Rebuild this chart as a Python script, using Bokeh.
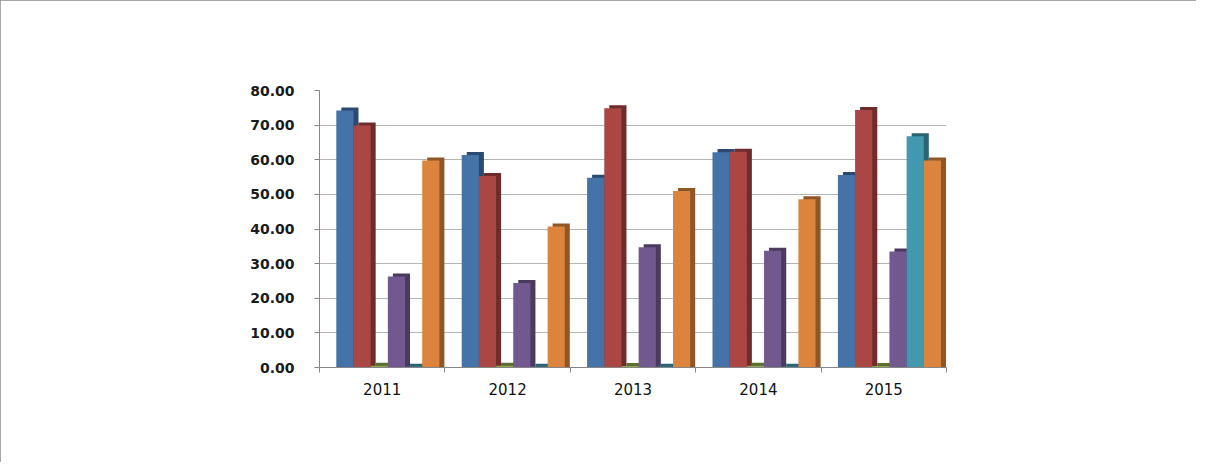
import numpy as np
from bokeh.plotting import figure
from bokeh.models import (Range1d, FixedTicker, Label, Legend, LegendItem,
                          NumeralTickFormatter)
from bokeh.core.properties import value
from bokeh.embed import file_html
from bokeh.resources import INLINE

# ---------------- data ----------------
years = ["2011", "2012", "2013", "2014", "2015"]
series = ["Dasheen", "Sweet Potato", "Tannia", "Yams", "Plantain", "Green Banana"]
dasheen = [74.2, 61.4, 54.8, 62.2, 55.6]
sweet_potato = [69.9, 55.3, 74.9, 62.3, 74.4]
tannia = [0.5, 0.5, 0.4, 0.5, 0.4]
yams = [26.3, 24.4, 34.7, 33.7, 33.5]
plantain = [0.2, 0.2, 0.2, 0.2, 66.8]
green_banana = [59.8, 40.7, 51.0, 48.6, 59.8]
y_ticks = [0, 10, 20, 30, 40, 50, 60, 70, 80]

title_lines = ["Total Purchases of Selected Food Crops", "by Leading  Hotels"]
y_title = "Tonnes"
x_title = "YEAR"

colors = ["#4572A7", "#AA4643", "#89A54E", "#71588F", "#4198AF", "#DB843D"]
side_colors = ["#2C4A70", "#6E2C2A", "#5A6E33", "#4A3A5E", "#2A6373", "#8F5628"]

values = [dasheen, sweet_potato, tannia, yams, plantain, green_banana]

# ---------------- figure ----------------
W, H = 1196, 462
p = figure(width=W, height=H, output_backend="svg", toolbar_location=None,
           x_range=Range1d(0, len(years)), y_range=Range1d(0, 80),
           min_border_left=319, min_border_right=250,
           min_border_top=90, min_border_bottom=95,
           background_fill_color="white", border_fill_color="white")
p.outline_line_color = None
p.styles = {"outline": "2px solid #8c8c8c", "outline-offset": "-2px"}

xs = np.arange(len(years)) + 0.5
bw = 0.137
shift = 0.045
dx = 0.04
dy = 0.87

renderers = []
for i, (name, vals) in enumerate(zip(series, values)):
    off = (i - 2.5) * bw + shift
    v = np.array(vals)
    p.vbar(x=xs + off + dx, top=v + dy, bottom=0, width=bw,
           fill_color=side_colors[i], line_color=None)
    r = p.vbar(x=xs + off, top=v, bottom=0, width=bw,
               fill_color=colors[i], line_color=None)
    renderers.append(r)

# ---------------- axes ----------------
p.yaxis.ticker = FixedTicker(ticks=y_ticks)
p.yaxis.formatter = NumeralTickFormatter(format="0.00")
p.yaxis.axis_line_color = "#868686"
p.yaxis.major_tick_line_color = "#868686"
p.yaxis.major_tick_out = 5
p.yaxis.major_tick_in = 0
p.yaxis.minor_tick_line_color = None
p.yaxis.major_label_standoff = 20
p.yaxis.major_label_text_font = "DejaVu Sans"
p.yaxis.major_label_text_font_style = "bold"
p.yaxis.major_label_text_font_size = "14px"
p.yaxis.major_label_text_color = "#1a1a1a"

p.xaxis.ticker = FixedTicker(ticks=list(xs), minor_ticks=list(range(len(years) + 1)))
p.xaxis.major_label_overrides = {float(x): y for x, y in zip(xs, years)}
p.xaxis.axis_line_color = "#868686"
p.xaxis.major_tick_line_color = None
p.xaxis.major_tick_out = 0
p.xaxis.major_tick_in = 0
p.xaxis.minor_tick_line_color = "#868686"
p.xaxis.minor_tick_out = 5
p.xaxis.minor_tick_in = 0
p.xaxis.major_label_standoff = 10
p.xaxis.major_label_text_font = "DejaVu Sans"
p.xaxis.major_label_text_font_size = "15px"
p.xaxis.major_label_text_color = "#111111"

p.xgrid.grid_line_color = None
p.ygrid.ticker = FixedTicker(ticks=y_ticks)
p.ygrid.grid_line_color = "#b4b4b4"

# ---------------- texts ----------------
p.add_layout(Label(x=279, y=333, x_units="screen", y_units="screen",
                   text=title_lines[0], text_align="center", text_baseline="alphabetic",
                   text_font="DejaVu Sans", text_font_style="bold",
                   text_font_size="28px", text_color="black"))
p.add_layout(Label(x=279, y=305, x_units="screen", y_units="screen",
                   text=title_lines[1], text_align="center", text_baseline="alphabetic",
                   text_font="DejaVu Sans", text_font_style="bold",
                   text_font_size="28px", text_color="black"))
p.add_layout(Label(x=-213, y=206, x_units="screen", y_units="screen",
                   text="\n".join(y_title), text_align="center", text_baseline="top",
                   text_font="DejaVu Sans", text_font_style="bold",
                   text_font_size="11px", text_line_height=1.68, text_color="black"))
p.add_layout(Label(x=313, y=-51, x_units="screen", y_units="screen",
                   text=x_title, text_align="center", text_baseline="alphabetic",
                   text_font="DejaVu Sans", text_font_style="bold",
                   text_font_size="13px", text_color="black"))

# ---------------- legend (one box per entry) ----------------
leg_x = [-178, -22, 182, 321, 443, 595]
for i, name in enumerate(series):
    lg = Legend(items=[LegendItem(label=name, renderers=[renderers[i]])],
                location=(leg_x[i], -84), orientation="horizontal",
                padding=0, margin=0, spacing=0,
                border_line_color=None, background_fill_alpha=0,
                glyph_width=13, glyph_height=7, label_height=7,
                label_standoff=8,
                label_text_font="DejaVu Sans", label_text_font_size="14px",
                label_text_color="#111111")
    p.add_layout(lg, "center")

open("out.html", "w").write(file_html(p, INLINE))
